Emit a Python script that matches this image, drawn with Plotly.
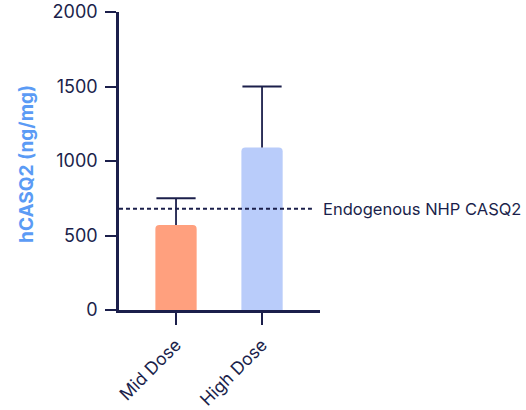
import plotly.graph_objects as go

# Data
groups = ["Mid Dose", "High Dose"]
means = [570, 1090]
err_plus = [180, 410]
bar_colors = ["#FFA07E", "#B9CCFA"]
endogenous_level = 680
y_ticks = [0, 500, 1000, 1500, 2000]

navy = "#1B1F4B"
font_family = "Inter, Liberation Sans, Arial, sans-serif"

x_pos = list(range(len(groups)))
tops = [m + e for m, e in zip(means, err_plus)]

fig = go.Figure()
fig.add_trace(go.Bar(
    x=x_pos,
    y=means,
    width=0.48,
    marker=dict(color=bar_colors, line=dict(width=0), cornerradius=4),
    showlegend=False,
    hoverinfo="skip",
))

# Upper-only error bars: stem from bar top to mean + error, then a cap
stem_x, stem_y = [], []
for x, m, t in zip(x_pos, means, tops):
    stem_x += [x, x, None]
    stem_y += [m, t, None]
fig.add_trace(go.Scatter(
    x=stem_x, y=stem_y,
    mode="lines",
    line=dict(color=navy, width=1.8),
    showlegend=False,
    hoverinfo="skip",
))
fig.add_trace(go.Scatter(
    x=x_pos, y=tops,
    mode="markers",
    marker=dict(symbol="line-ew", size=28, line=dict(color=navy, width=1.8)),
    showlegend=False,
    hoverinfo="skip",
))

# Reference level for endogenous protein
fig.add_shape(
    type="line",
    xref="x", yref="y",
    x0=-0.663, x1=1.58,
    y0=endogenous_level, y1=endogenous_level,
    line=dict(color=navy, width=2, dash="4px,3px"),
)
fig.add_annotation(
    xref="paper", yref="y",
    x=1.005, y=endogenous_level,
    text="Endogenous NHP CASQ2",
    showarrow=False,
    xanchor="left", yanchor="middle",
    font=dict(family=font_family, size=16.5, color=navy),
)

# Y-axis title
fig.add_annotation(
    xref="paper", yref="paper",
    x=-0.458, y=0.49,
    text="<b>hCASQ2 (ng/mg)</b>",
    textangle=-90,
    showarrow=False,
    xanchor="center", yanchor="middle",
    font=dict(family=font_family, size=19, color="#5B9BF5"),
)

fig.update_layout(
    width=526, height=410,
    margin=dict(l=119, r=206, t=12, b=100),
    plot_bgcolor="white",
    paper_bgcolor="white",
    font=dict(family=font_family, color=navy),
    xaxis=dict(
        range=[-0.663, 1.674],
        tickvals=x_pos,
        ticktext=groups,
        tickangle=-45,
        ticks="outside",
        ticklen=12,
        tickwidth=2,
        tickcolor=navy,
        ticklabelstandoff=3,
        showline=True,
        linecolor=navy,
        linewidth=2.5,
        showgrid=False,
        zeroline=False,
        automargin=False,
        tickfont=dict(family=font_family, size=17.5, color=navy),
    ),
    yaxis=dict(
        range=[0, 2000],
        tickvals=y_ticks,
        ticks="outside",
        ticklen=11,
        tickwidth=2,
        tickcolor=navy,
        ticklabelstandoff=4,
        showline=True,
        linecolor=navy,
        linewidth=2.5,
        showgrid=False,
        zeroline=False,
        automargin=False,
        tickfont=dict(family=font_family, size=18, color=navy),
    ),
)

fig.write_html("out.html")
